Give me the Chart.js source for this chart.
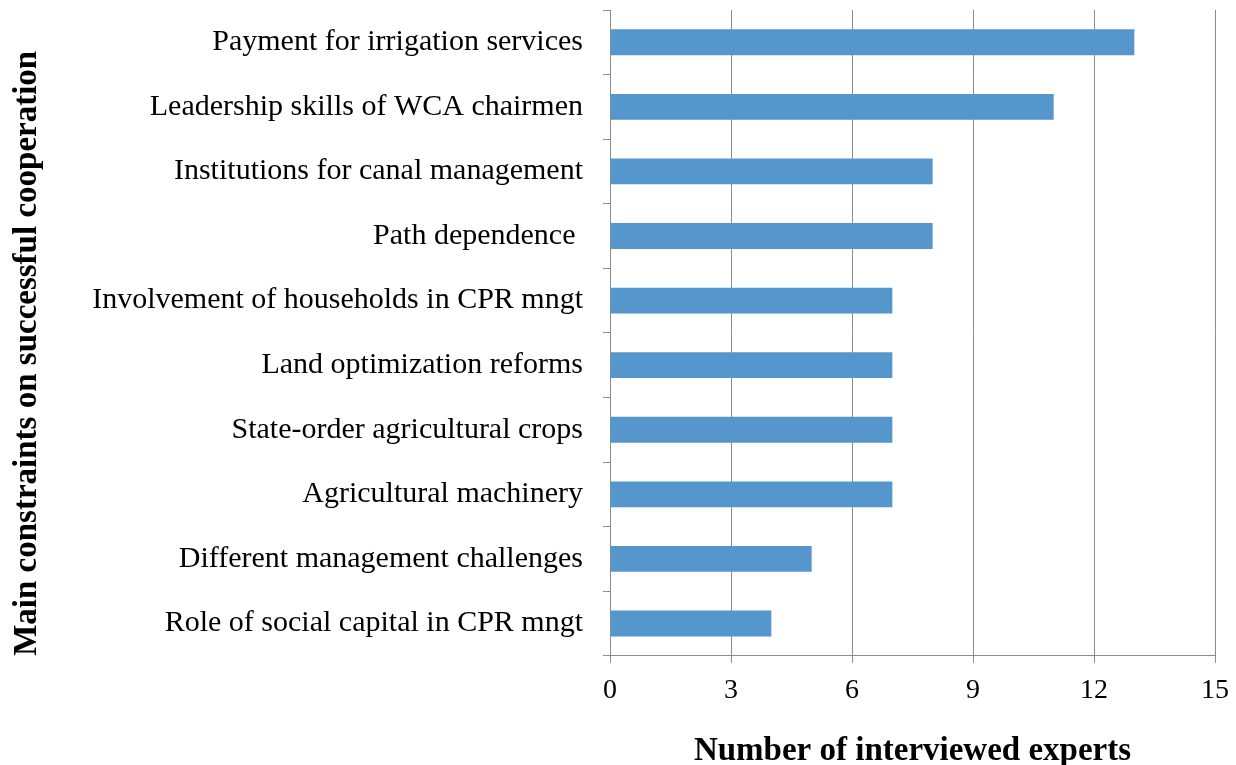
<!DOCTYPE html>
<html>
<head>
<meta charset="utf-8">
<title>Main constraints on successful cooperation</title>
<script src="https://cdn.jsdelivr.net/npm/chart.js@4.4.1/dist/chart.umd.min.js"></script>
<style>
    html, body { margin: 0; padding: 0; background: #ffffff; }
    #wrap { width: 1236px; height: 765px; }
</style>
</head>
<body>
<div id="wrap"><canvas id="chart" width="1236" height="765"></canvas></div>
<script>
    // categories listed top to bottom, as in the figure
    const constraints = [
        "Payment for irrigation services",
        "Leadership skills of WCA chairmen",
        "Institutions for canal management",
        "Path dependence ",
        "Involvement of households in CPR mngt",
        "Land optimization reforms",
        "State-order agricultural crops",
        "Agricultural machinery",
        "Different management challenges",
        "Role of social capital in CPR mngt"
    ];
    const experts = [13, 11, 8, 8, 7, 7, 7, 7, 5, 4];
    const xTicks = [0, 3, 6, 9, 12, 15];

    const xTitle = "Number of interviewed experts";
    const yTitle = "Main constraints on successful cooperation";

    const serif = "'Liberation Serif', 'Times New Roman', serif";
    const gridGray = "#8c8c8c";

    (function () {
        const ctx = document.getElementById("chart").getContext("2d");

        new Chart(ctx, {
            type: "bar",
            data: {
                labels: constraints,
                datasets: [{
                    label: xTitle,
                    data: experts,
                    backgroundColor: "#5596cc",
                    borderWidth: 0,
                    barPercentage: 0.4,
                    categoryPercentage: 1.0
                }]
            },
            options: {
                indexAxis: "y",
                responsive: false,
                animation: false,
                layout: { padding: { top: 10, right: 21, bottom: 0, left: 5 } },
                plugins: {
                    legend: { display: false },
                    tooltip: { enabled: false }
                },
                scales: {
                    x: {
                        min: 0,
                        max: 15,
                        afterBuildTicks: function (scale) {
                            scale.ticks = xTicks.map(function (v) { return { value: v }; });
                        },
                        afterFit: function (scale) {
                            // let the layout padding decide the right edge
                            scale.paddingLeft = 0;
                            scale.paddingRight = 0;
                        },
                        grid: {
                            color: gridGray,
                            lineWidth: 1,
                            drawTicks: true,
                            tickLength: 7
                        },
                        border: { display: true, color: gridGray, width: 1 },
                        ticks: {
                            color: "#000",
                            padding: 11,
                            font: { family: serif, size: 28 }
                        },
                        title: {
                            display: true,
                            text: xTitle,
                            color: "#000",
                            padding: { top: 13, bottom: -6 },
                            font: { family: serif, size: 33, weight: "bold" }
                        }
                    },
                    y: {
                        afterFit: function (scale) {
                            // no extra room above/below for label halves
                            scale.paddingTop = 0;
                            scale.paddingBottom = 0;
                        },
                        grid: {
                            offset: true,
                            drawOnChartArea: false,
                            drawTicks: true,
                            tickLength: 7,
                            color: gridGray
                        },
                        border: { display: true, color: gridGray, width: 1 },
                        ticks: {
                            color: "#000",
                            padding: 20,
                            autoSkip: false,
                            font: { family: serif, size: 30 }
                        },
                        title: {
                            display: true,
                            text: yTitle,
                            align: "start",
                            color: "#000",
                            padding: { top: 3, bottom: 51 },
                            font: { family: serif, size: 33, weight: "bold" }
                        }
                    }
                }
            }
        });
    })();
</script>
</body>
</html>
